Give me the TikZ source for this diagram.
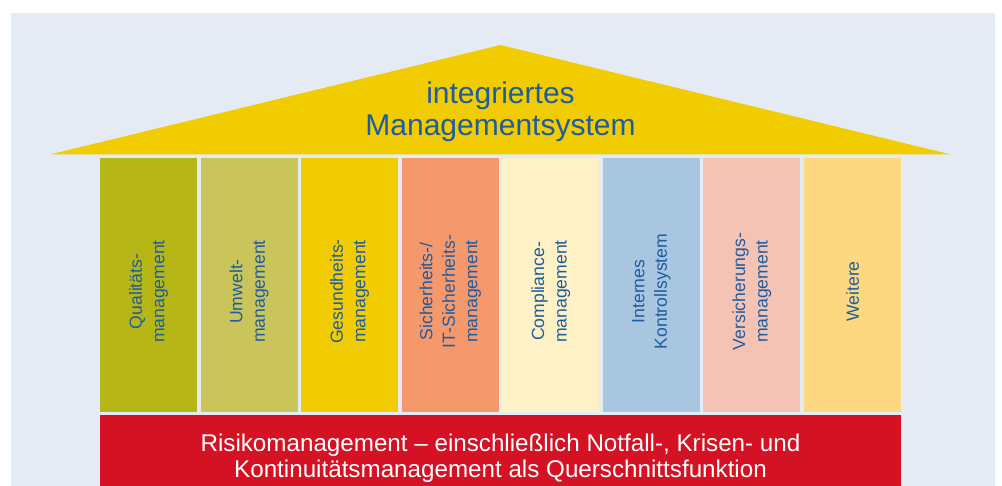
\documentclass[tikz,border=0pt]{standalone}
\usepackage{fontspec}
\setmainfont{Liberation Sans}
\usetikzlibrary{calc}
\definecolor{bgblue}{HTML}{E4EBF5}
\definecolor{roofyellow}{HTML}{F0CC00}
\definecolor{txtblue}{HTML}{1E5CA0}
\definecolor{riskred}{HTML}{D51224}
\definecolor{pA}{HTML}{B6B616}
\definecolor{pB}{HTML}{C9C55A}
\definecolor{pC}{HTML}{F0CC00}
\definecolor{pD}{HTML}{F5996D}
\definecolor{pE}{HTML}{FEF1C6}
\definecolor{pF}{HTML}{A8C6DF}
\definecolor{pG}{HTML}{F4C3B3}
\definecolor{pH}{HTML}{FED880}
\begin{document}
\begin{tikzpicture}[x=1pt,y=-1pt,
  pillar/.style={rectangle, inner sep=0pt, minimum width=97pt, minimum height=254pt},
  pillarlabel/.style={rotate=90, align=center, text=txtblue, inner sep=0pt,
    font=\fontsize{17.6}{22.5}\selectfont},
  rooflabel/.style={align=center, text=txtblue, inner sep=0pt,
    font=\fontsize{30}{31.6}\selectfont},
  baselabel/.style={align=center, text=white, inner sep=0pt,
    font=\fontsize{24.2}{25.7}\selectfont}]
  \useasboundingbox (0,0) rectangle (1002,486);
  % page background
  \fill[bgblue] (11,13) rectangle (995,486);
  % roof
  \fill[roofyellow] (50,154.5) -- (500.5,45) -- (951,154.5) -- cycle;
  \node[rooflabel] (title) at (500.5,112) {integriertes\\Managementsystem};
  % pillars
  \foreach \i/\col in {0/pA,1/pB,2/pC,3/pD,4/pE,5/pF,6/pG,7/pH}{
    \node[pillar, fill=\col] (p\i) at ({148.5+\i*100.57},285) {};
  }
  \node[pillarlabel] (l0) at ($(p0)+(0,6.5)$) {Qualitäts-\\management};
  \node[pillarlabel] (l1) at ($(p1)+(0,6.5)$) {Umwelt-\\management};
  \node[pillarlabel] (l2) at ($(p2)+(0,6.5)$) {Gesundheits-\\management};
  \node[pillarlabel] (l3) at ($(p3)+(0,6.5)$) {Sicherheits-/\\IT-Sicherheits-\\management};
  \node[pillarlabel] (l4) at ($(p4)+(0,6.5)$) {Compliance-\\management};
  \node[pillarlabel] (l5) at ($(p5)+(0,6.5)$) {Internes\\Kontrollsystem};
  \node[pillarlabel] (l6) at ($(p6)+(0,6.5)$) {Versicherungs-\\management};
  \node[pillarlabel] (l7) at ($(p7)+(0,6.5)$) {Weitere};
  % foundation
  \fill[riskred] (100,415) rectangle (901,486);
  \node[baselabel] (basetext) at (500.5,458)
    {Risikomanagement – einschließlich Notfall-, Krisen- und\\Kontinuitätsmanagement als Querschnittsfunktion};
\end{tikzpicture}
\end{document}
